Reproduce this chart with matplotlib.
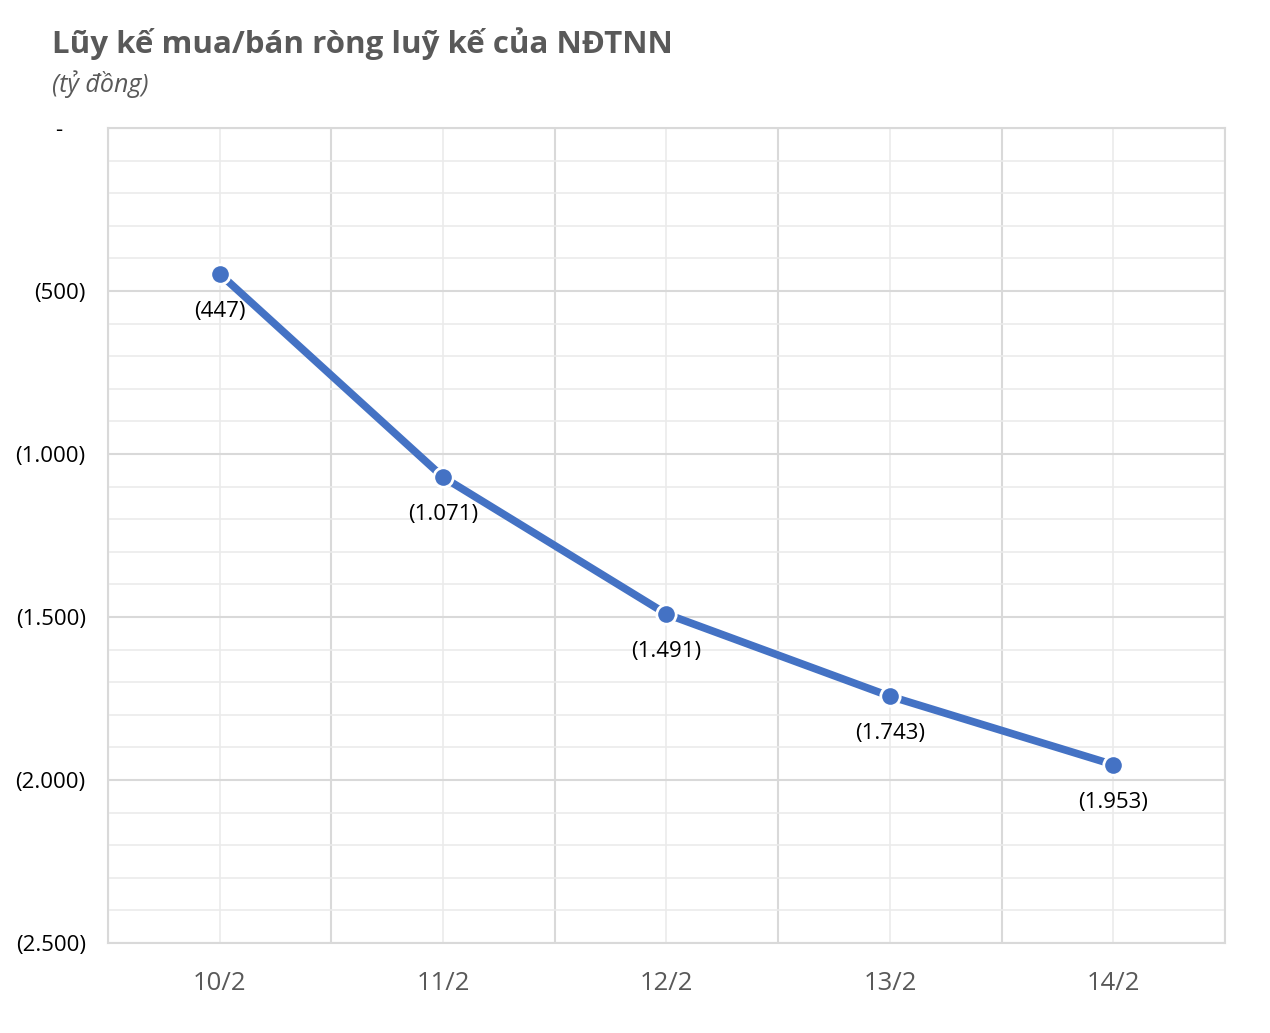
import numpy as np
import matplotlib.pyplot as plt
from matplotlib.ticker import FuncFormatter, MultipleLocator

dates = ['10/2', '11/2', '12/2', '13/2', '14/2']
values = [-447, -1071, -1491, -1743, -1953]

def fmt(v, pos=None):
    v = int(round(v))
    if v == 0:
        return '-    '
    s = '{:,}'.format(abs(v)).replace(',', '.')
    return '(' + s + ')' if v < 0 else s

plt.rcParams['font.family'] = ['Open Sans', 'DejaVu Sans']

fig = plt.figure(figsize=(12.7, 10.33), dpi=100)
ax = fig.add_axes([0.085, 0.0871, 0.8796, 0.789])

x = np.arange(len(dates))
ax.set_xlim(-0.5, len(dates) - 0.5)
ax.set_ylim(-2500, 0)

# gridlines
ax.yaxis.set_major_locator(MultipleLocator(500))
ax.yaxis.set_minor_locator(MultipleLocator(100))
ax.set_xticks(x)
ax.set_xticks(np.arange(-0.5, len(dates)), minor=True)
ax.grid(which='minor', axis='y', color='#ebebeb', lw=1.2, zorder=0)
ax.grid(which='major', axis='y', color='#d9d9d9', lw=1.5, zorder=0)
ax.grid(which='major', axis='x', color='#ebebeb', lw=1.2, zorder=0)
ax.grid(which='minor', axis='x', color='#d9d9d9', lw=1.5, zorder=0)
for s in ax.spines.values():
    s.set_color('#d9d9d9')
    s.set_linewidth(1.5)
ax.tick_params(which='both', length=0)
ax.yaxis.set_major_formatter(FuncFormatter(fmt))
ax.set_xticklabels(dates)
ax.tick_params(axis='y', labelsize=16, labelcolor='black', pad=16)
ax.tick_params(axis='x', labelsize=18.5, labelcolor='#595959', pad=20)

ax.plot(x, values, color='#4472c4', lw=5.5, marker='o', ms=14,
        mec='white', mew=2, zorder=3, solid_capstyle='round')

for xi, v in zip(x, values):
    ax.annotate(fmt(v), (xi, v), xytext=(0, -27), textcoords='offset points',
                ha='center', va='center', fontsize=16, color='black', zorder=4)

fig.text(0.041, 0.958, 'Lũy kế mua/bán ròng luỹ kế của NĐTNN', fontsize=22.5,
         fontweight='bold', color='#595959', va='center', ha='left')
fig.text(0.041, 0.919, '(tỷ đồng)', fontsize=18, style='italic',
         color='#595959', va='center', ha='left')

plt.savefig('out.png', dpi=100)
